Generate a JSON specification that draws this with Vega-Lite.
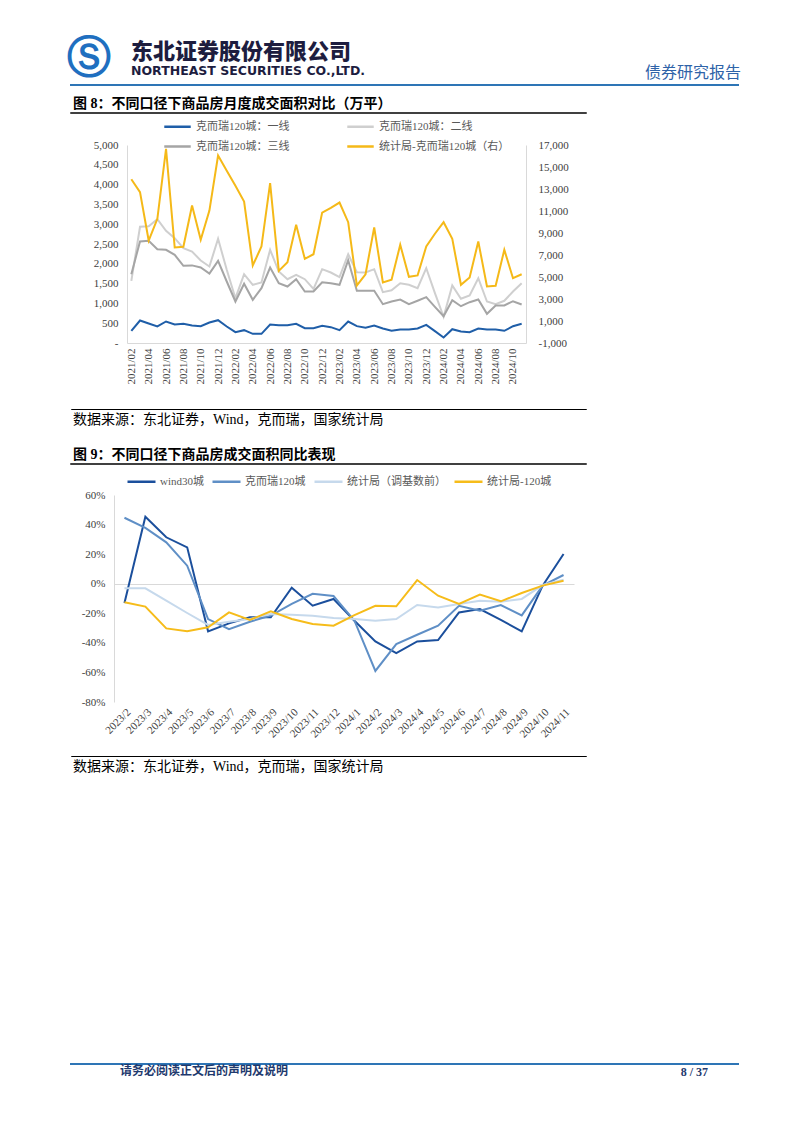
{
  "$schema": "https://vega.github.io/schema/vega-lite/v6.json",
  "background": "white",
  "padding": {"left": 67, "top": 37, "right": 20, "bottom": 20},
  "spacing": 0,
  "bounds": "flush",
  "resolve": {"scale": {"color": "independent"}, "legend": {"color": "independent"}},
  "config": {
    "view": {"stroke": null},
    "axis": {"labelFont": "Liberation Serif, Noto Sans CJK SC", "labelFontSize": 11, "labelColor": "#404040", "grid": false, "ticks": false, "domainColor": "#d9d9d9", "domainWidth": 1},
    "legend": {"labelFont": "Liberation Serif, Noto Sans CJK SC", "labelFontSize": 11, "labelColor": "#595959", "gridAlign": "each"},
    "title": {"font": "Liberation Serif, Noto Sans CJK SC", "color": "#000000", "anchor": "start"}
  },
  "vconcat": [
    {"width": 667, "height": 0.01, "data": {"values": [{}]}, "mark": {"type": "text", "text": ""}, "encoding": {},
     "title": {"text": "Ⓢ", "anchor": "start", "dx": -4, "offset": -4, "font": "DejaVu Sans", "fontSize": 44, "fontWeight": "bold", "color": "#1f6fc0"}},
    {"width": 667, "height": 0.01, "data": {"values": [{}]}, "mark": {"type": "text", "text": ""}, "encoding": {},
     "title": {"text": "东北证券股份有限公司", "subtitle": "NORTHEAST SECURITIES CO.,LTD.", "anchor": "start", "dx": 60, "offset": 0, "font": "Noto Sans CJK SC", "fontSize": 22, "fontWeight": 900, "color": "#1d1d3f", "subtitleFont": "DejaVu Sans", "subtitleFontSize": 12.5, "subtitleFontWeight": "bold", "subtitleColor": "#1d1d3f", "subtitlePadding": 1}},
    {"width": 667, "height": 0.01, "view": {"stroke": "#2e75b6", "strokeWidth": 2}, "data": {"values": [{}]}, "mark": {"type": "text", "text": ""}, "encoding": {},
     "title": {"text": "债券研究报告", "anchor": "end", "dx": 3, "offset": -2, "font": "Noto Sans CJK SC", "fontSize": 16, "fontWeight": "normal", "color": "#2f63a8"}},

    {"width": 1, "height": 27, "data": {"values": [{}]}, "mark": {"type": "text", "text": ""}, "encoding": {}},

    {"width": 515, "height": 0.01, "view": {"stroke": "#000000", "strokeWidth": 1.5}, "data": {"values": [{}]}, "mark": {"type": "text", "text": ""}, "encoding": {},
     "title": {"text": "图 8：不同口径下商品房月度成交面积对比（万平）", "anchor": "start", "dx": 2, "offset": -4, "fontSize": 14, "fontWeight": "bold"}},

    {"width": 1, "height": 31, "data": {"values": [{}]}, "mark": {"type": "text", "text": ""}, "encoding": {}},

    {
      "width": 455, "height": 198,
      "data": {"values": [
        {"m":"2021/02","s":"克而瑞120城：一线","v":308},{"m":"2021/03","s":"克而瑞120城：一线","v":568},{"m":"2021/04","s":"克而瑞120城：一线","v":492},{"m":"2021/05","s":"克而瑞120城：一线","v":417},{"m":"2021/06","s":"克而瑞120城：一线","v":543},{"m":"2021/07","s":"克而瑞120城：一线","v":467},{"m":"2021/08","s":"克而瑞120城：一线","v":484},{"m":"2021/09","s":"克而瑞120城：一线","v":442},{"m":"2021/10","s":"克而瑞120城：一线","v":425},{"m":"2021/11","s":"克而瑞120城：一线","v":518},{"m":"2021/12","s":"克而瑞120城：一线","v":576},
        {"m":"2022/01","s":"克而瑞120城：一线","v":417},{"m":"2022/02","s":"克而瑞120城：一线","v":273},{"m":"2022/03","s":"克而瑞120城：一线","v":324},{"m":"2022/04","s":"克而瑞120城：一线","v":232},{"m":"2022/05","s":"克而瑞120城：一线","v":232},{"m":"2022/06","s":"克而瑞120城：一线","v":467},{"m":"2022/07","s":"克而瑞120城：一线","v":450},{"m":"2022/08","s":"克而瑞120城：一线","v":450},{"m":"2022/09","s":"克而瑞120城：一线","v":484},{"m":"2022/10","s":"克而瑞120城：一线","v":374},{"m":"2022/11","s":"克而瑞120城：一线","v":374},{"m":"2022/12","s":"克而瑞120城：一线","v":434},
        {"m":"2023/01","s":"克而瑞120城：一线","v":400},{"m":"2023/02","s":"克而瑞120城：一线","v":324},{"m":"2023/03","s":"克而瑞120城：一线","v":543},{"m":"2023/04","s":"克而瑞120城：一线","v":425},{"m":"2023/05","s":"克而瑞120城：一线","v":383},{"m":"2023/06","s":"克而瑞120城：一线","v":442},{"m":"2023/07","s":"克而瑞120城：一线","v":366},{"m":"2023/08","s":"克而瑞120城：一线","v":308},{"m":"2023/09","s":"克而瑞120城：一线","v":341},{"m":"2023/10","s":"克而瑞120城：一线","v":341},{"m":"2023/11","s":"克而瑞120城：一线","v":366},{"m":"2023/12","s":"克而瑞120城：一线","v":459},
        {"m":"2024/01","s":"克而瑞120城：一线","v":300},{"m":"2024/02","s":"克而瑞120城：一线","v":139},{"m":"2024/03","s":"克而瑞120城：一线","v":349},{"m":"2024/04","s":"克而瑞120城：一线","v":290},{"m":"2024/05","s":"克而瑞120城：一线","v":273},{"m":"2024/06","s":"克而瑞120城：一线","v":366},{"m":"2024/07","s":"克而瑞120城：一线","v":341},{"m":"2024/08","s":"克而瑞120城：一线","v":341},{"m":"2024/09","s":"克而瑞120城：一线","v":308},{"m":"2024/10","s":"克而瑞120城：一线","v":425},{"m":"2024/11","s":"克而瑞120城：一线","v":484},

        {"m":"2021/02","s":"克而瑞120城：二线","v":1570},{"m":"2021/03","s":"克而瑞120城：二线","v":2934},{"m":"2021/04","s":"克而瑞120城：二线","v":2950},{"m":"2021/05","s":"克而瑞120城：二线","v":3126},{"m":"2021/06","s":"克而瑞120城：二线","v":2833},{"m":"2021/07","s":"克而瑞120城：二线","v":2646},{"m":"2021/08","s":"克而瑞120城：二线","v":2394},{"m":"2021/09","s":"克而瑞120城：二线","v":2310},{"m":"2021/10","s":"克而瑞120城：二线","v":2083},{"m":"2021/11","s":"克而瑞120城：二线","v":1932},{"m":"2021/12","s":"克而瑞120城：二线","v":2631},
        {"m":"2022/01","s":"克而瑞120城：二线","v":1848},{"m":"2022/02","s":"克而瑞120城：二线","v":1131},{"m":"2022/03","s":"克而瑞120城：二线","v":1738},{"m":"2022/04","s":"克而瑞120城：二线","v":1469},{"m":"2022/05","s":"克而瑞120城：二线","v":1528},{"m":"2022/06","s":"克而瑞120城：二线","v":2353},{"m":"2022/07","s":"克而瑞120城：二线","v":1805},{"m":"2022/08","s":"克而瑞120城：二线","v":1611},{"m":"2022/09","s":"克而瑞120城：二线","v":1722},{"m":"2022/10","s":"克而瑞120城：二线","v":1611},{"m":"2022/11","s":"克而瑞120城：二线","v":1368},{"m":"2022/12","s":"克而瑞120城：二线","v":1864},
        {"m":"2023/01","s":"克而瑞120城：二线","v":1780},{"m":"2023/02","s":"克而瑞120城：二线","v":1662},{"m":"2023/03","s":"克而瑞120城：二线","v":2242},{"m":"2023/04","s":"克而瑞120城：二线","v":1788},{"m":"2023/05","s":"克而瑞120城：二线","v":1780},{"m":"2023/06","s":"克而瑞120城：二线","v":1864},{"m":"2023/07","s":"克而瑞120城：二线","v":1283},{"m":"2023/08","s":"克而瑞120城：二线","v":1333},{"m":"2023/09","s":"克而瑞120城：二线","v":1510},{"m":"2023/10","s":"克而瑞120城：二线","v":1469},{"m":"2023/11","s":"克而瑞120城：二线","v":1384},{"m":"2023/12","s":"克而瑞120城：二线","v":1889},
        {"m":"2024/01","s":"克而瑞120城：二线","v":1258},{"m":"2024/02","s":"克而瑞120城：二线","v":662},{"m":"2024/03","s":"克而瑞120城：二线","v":1452},{"m":"2024/04","s":"克而瑞120城：二线","v":1116},{"m":"2024/05","s":"克而瑞120城：二线","v":1199},{"m":"2024/06","s":"克而瑞120城：二线","v":1636},{"m":"2024/07","s":"克而瑞120城：二线","v":1048},{"m":"2024/08","s":"克而瑞120城：二线","v":980},{"m":"2024/09","s":"克而瑞120城：二线","v":1066},{"m":"2024/10","s":"克而瑞120城：二线","v":1300},{"m":"2024/11","s":"克而瑞120城：二线","v":1510},

        {"m":"2021/02","s":"克而瑞120城：三线","v":1738},{"m":"2021/03","s":"克而瑞120城：三线","v":2563},{"m":"2021/04","s":"克而瑞120城：三线","v":2580},{"m":"2021/05","s":"克而瑞120城：三线","v":2369},{"m":"2021/06","s":"克而瑞120城：三线","v":2353},{"m":"2021/07","s":"克而瑞120城：三线","v":2227},{"m":"2021/08","s":"克而瑞120城：三线","v":1949},{"m":"2021/09","s":"克而瑞120城：三线","v":1960},{"m":"2021/10","s":"克而瑞120城：三线","v":1906},{"m":"2021/11","s":"克而瑞120城：三线","v":1755},{"m":"2021/12","s":"克而瑞120城：三线","v":2075},
        {"m":"2022/01","s":"克而瑞120城：三线","v":1553},{"m":"2022/02","s":"克而瑞120城：三线","v":1048},{"m":"2022/03","s":"克而瑞120城：三线","v":1495},{"m":"2022/04","s":"克而瑞120城：三线","v":1091},{"m":"2022/05","s":"克而瑞120城：三线","v":1384},{"m":"2022/06","s":"克而瑞120城：三线","v":1906},{"m":"2022/07","s":"克而瑞120城：三线","v":1510},{"m":"2022/08","s":"克而瑞120城：三线","v":1427},{"m":"2022/09","s":"克而瑞120城：三线","v":1611},{"m":"2022/10","s":"克而瑞120城：三线","v":1300},{"m":"2022/11","s":"克而瑞120城：三线","v":1300},{"m":"2022/12","s":"克而瑞120城：三线","v":1535},
        {"m":"2023/01","s":"克而瑞120城：三线","v":1510},{"m":"2023/02","s":"克而瑞120城：三线","v":1469},{"m":"2023/03","s":"克而瑞120城：三线","v":2091},{"m":"2023/04","s":"克而瑞120城：三线","v":1318},{"m":"2023/05","s":"克而瑞120城：三线","v":1318},{"m":"2023/06","s":"克而瑞120城：三线","v":1318},{"m":"2023/07","s":"克而瑞120城：三线","v":980},{"m":"2023/08","s":"克而瑞120城：三线","v":1048},{"m":"2023/09","s":"克而瑞120城：三线","v":1098},{"m":"2023/10","s":"克而瑞120城：三线","v":980},{"m":"2023/11","s":"克而瑞120城：三线","v":1066},{"m":"2023/12","s":"克而瑞120城：三线","v":1157},
        {"m":"2024/01","s":"克而瑞120城：三线","v":914},{"m":"2024/02","s":"克而瑞120城：三线","v":677},{"m":"2024/03","s":"克而瑞120城：三线","v":1081},{"m":"2024/04","s":"克而瑞120城：三线","v":929},{"m":"2024/05","s":"克而瑞120城：三线","v":1030},{"m":"2024/06","s":"克而瑞120城：三线","v":1098},{"m":"2024/07","s":"克而瑞120城：三线","v":737},{"m":"2024/08","s":"克而瑞120城：三线","v":947},{"m":"2024/09","s":"克而瑞120城：三线","v":947},{"m":"2024/10","s":"克而瑞120城：三线","v":1055},{"m":"2024/11","s":"克而瑞120城：三线","v":972},

        {"m":"2021/02","s":"统计局-克而瑞120城（右）","v":13890},{"m":"2021/03","s":"统计局-克而瑞120城（右）","v":12710},{"m":"2021/04","s":"统计局-克而瑞120城（右）","v":8317},{"m":"2021/05","s":"统计局-克而瑞120城（右）","v":10290},{"m":"2021/06","s":"统计局-克而瑞120城（右）","v":16650},{"m":"2021/07","s":"统计局-克而瑞120城（右）","v":7680},{"m":"2021/08","s":"统计局-克而瑞120城（右）","v":7745},{"m":"2021/09","s":"统计局-克而瑞120城（右）","v":11500},{"m":"2021/10","s":"统计局-克而瑞120城（右）","v":8380},{"m":"2021/11","s":"统计局-克而瑞120城（右）","v":11040},{"m":"2021/12","s":"统计局-克而瑞120城（右）","v":16040},
        {"m":"2022/01","s":"统计局-克而瑞120城（右）","v":14650},{"m":"2022/02","s":"统计局-克而瑞120城（右）","v":13290},{"m":"2022/03","s":"统计局-克而瑞120城（右）","v":11860},{"m":"2022/04","s":"统计局-克而瑞120城（右）","v":6045},{"m":"2022/05","s":"统计局-克而瑞120城（右）","v":7770},{"m":"2022/06","s":"统计局-克而瑞120城（右）","v":13530},{"m":"2022/07","s":"统计局-克而瑞120城（右）","v":5560},{"m":"2022/08","s":"统计局-克而瑞120城（右）","v":6345},{"m":"2022/09","s":"统计局-克而瑞120城（右）","v":9745},{"m":"2022/10","s":"统计局-克而瑞120城（右）","v":6650},{"m":"2022/11","s":"统计局-克而瑞120城（右）","v":7070},{"m":"2022/12","s":"统计局-克而瑞120城（右）","v":10860},
        {"m":"2023/01","s":"统计局-克而瑞120城（右）","v":11290},{"m":"2023/02","s":"统计局-克而瑞120城（右）","v":11770},{"m":"2023/03","s":"统计局-克而瑞120城（右）","v":9980},{"m":"2023/04","s":"统计局-克而瑞120城（右）","v":4230},{"m":"2023/05","s":"统计局-克而瑞120城（右）","v":5250},{"m":"2023/06","s":"统计局-克而瑞120城（右）","v":9500},{"m":"2023/07","s":"统计局-克而瑞120城（右）","v":4500},{"m":"2023/08","s":"统计局-克而瑞120城（右）","v":4745},{"m":"2023/09","s":"统计局-克而瑞120城（右）","v":7930},{"m":"2023/10","s":"统计局-克而瑞120城（右）","v":5020},{"m":"2023/11","s":"统计局-克而瑞120城（右）","v":5140},{"m":"2023/12","s":"统计局-克而瑞120城（右）","v":7770},
        {"m":"2024/01","s":"统计局-克而瑞120城（右）","v":8930},{"m":"2024/02","s":"统计局-克而瑞120城（右）","v":9980},{"m":"2024/03","s":"统计局-克而瑞120城（右）","v":8470},{"m":"2024/04","s":"统计局-克而瑞120城（右）","v":4290},{"m":"2024/05","s":"统计局-克而瑞120城（右）","v":4950},{"m":"2024/06","s":"统计局-克而瑞120城（右）","v":8230},{"m":"2024/07","s":"统计局-克而瑞120城（右）","v":4140},{"m":"2024/08","s":"统计局-克而瑞120城（右）","v":4200},{"m":"2024/09","s":"统计局-克而瑞120城（右）","v":7470},{"m":"2024/10","s":"统计局-克而瑞120城（右）","v":4890},{"m":"2024/11","s":"统计局-克而瑞120城（右）","v":5250}
      ]},
      "encoding": {
        "x": {"field": "m", "type": "ordinal", "scale": {"type": "point", "padding": 0.5, "range": [56, 455]},
              "axis": {"title": null, "values": ["2021/02","2021/04","2021/06","2021/08","2021/10","2021/12","2022/02","2022/04","2022/06","2022/08","2022/10","2022/12","2023/02","2023/04","2023/06","2023/08","2023/10","2023/12","2024/02","2024/04","2024/06","2024/08","2024/10"], "labelAngle": -90, "labelPadding": 5, "domain": true}},
        "color": {"field": "s", "type": "nominal",
                  "scale": {"domain": ["克而瑞120城：一线","克而瑞120城：二线","克而瑞120城：三线","统计局-克而瑞120城（右）"], "range": ["#1f5ea8","#cfcfcf","#a5a5a5","#f5b918"]},
                  "legend": {"title": null, "orient": "none", "legendX": 92, "legendY": -33, "direction": "horizontal", "columns": 2, "columnPadding": 52, "rowPadding": -8, "symbolType": "stroke", "symbolSize": 700, "symbolStrokeWidth": 2.5, "labelOffset": 4}}
      },
      "layer": [
        {"transform": [{"filter": "datum.s !== '统计局-克而瑞120城（右）'"}],
         "mark": {"type": "line", "strokeWidth": 2},
         "encoding": {"y": {"field": "v", "type": "quantitative", "scale": {"domain": [0, 5000], "nice": false, "zero": false},
                            "axis": {"title": null, "offset": -56, "values": [0,500,1000,1500,2000,2500,3000,3500,4000,4500,5000], "labelExpr": "datum.value === 0 ? '-' : format(datum.value, ',')", "labelPadding": 9, "domain": true}}}},
        {"transform": [{"filter": "datum.s === '统计局-克而瑞120城（右）'"}],
         "mark": {"type": "line", "strokeWidth": 2},
         "encoding": {"y": {"field": "v", "type": "quantitative", "scale": {"domain": [-1000, 17000], "nice": false, "zero": false},
                            "axis": {"title": null, "orient": "right", "values": [-1000,1000,3000,5000,7000,9000,11000,13000,15000,17000], "labelExpr": "replace(format(datum.value, ','), '−', '-')", "labelPadding": 12, "domain": true}}}}
      ],
      "resolve": {"scale": {"y": "independent"}}
    },

    {"width": 1, "height": 66, "data": {"values": [{}]}, "mark": {"type": "text", "text": ""}, "encoding": {}},

    {"width": 515, "height": 0.01, "view": {"stroke": "#000000", "strokeWidth": 1}, "data": {"values": [{}]}, "mark": {"type": "text", "text": ""}, "encoding": {},
     "title": {"text": "数据来源：东北证券，Wind，克而瑞，国家统计局", "orient": "bottom", "anchor": "start", "dx": 2, "offset": -1, "fontSize": 14, "fontWeight": "normal"}},

    {"width": 1, "height": 54, "data": {"values": [{}]}, "mark": {"type": "text", "text": ""}, "encoding": {}},

    {"width": 515, "height": 0.01, "view": {"stroke": "#000000", "strokeWidth": 1.5}, "data": {"values": [{}]}, "mark": {"type": "text", "text": ""}, "encoding": {},
     "title": {"text": "图 9：不同口径下商品房成交面积同比表现", "anchor": "start", "dx": 2, "offset": -4, "fontSize": 14, "fontWeight": "bold"}},

    {"width": 1, "height": 30, "data": {"values": [{}]}, "mark": {"type": "text", "text": ""}, "encoding": {}},

    {
      "width": 503, "height": 207,
      "data": {"values": [
        {"m":"2023/2","s":"wind30城","v":-13.0},{"m":"2023/3","s":"wind30城","v":45.3},{"m":"2023/4","s":"wind30城","v":31.4},{"m":"2023/5","s":"wind30城","v":24.6},{"m":"2023/6","s":"wind30城","v":-32.2},{"m":"2023/7","s":"wind30城","v":-26.8},{"m":"2023/8","s":"wind30城","v":-22.7},{"m":"2023/9","s":"wind30城","v":-22.7},{"m":"2023/10","s":"wind30城","v":-2.7},{"m":"2023/11","s":"wind30城","v":-14.9},{"m":"2023/12","s":"wind30城","v":-10.3},
        {"m":"2024/1","s":"wind30城","v":-25.0},{"m":"2024/2","s":"wind30城","v":-39.0},{"m":"2024/3","s":"wind30城","v":-46.9},{"m":"2024/4","s":"wind30城","v":-39.0},{"m":"2024/5","s":"wind30城","v":-38.1},{"m":"2024/6","s":"wind30城","v":-19.4},{"m":"2024/7","s":"wind30城","v":-17.1},{"m":"2024/8","s":"wind30城","v":-24.5},{"m":"2024/9","s":"wind30城","v":-32.2},{"m":"2024/10","s":"wind30城","v":-1.3},{"m":"2024/11","s":"wind30城","v":20.1},

        {"m":"2023/2","s":"克而瑞120城","v":44.6},{"m":"2023/3","s":"克而瑞120城","v":37.7},{"m":"2023/4","s":"克而瑞120城","v":28.0},{"m":"2023/5","s":"克而瑞120城","v":12.2},{"m":"2023/6","s":"克而瑞120城","v":-23.9},{"m":"2023/7","s":"克而瑞120城","v":-30.8},{"m":"2023/8","s":"克而瑞120城","v":-25.7},{"m":"2023/9","s":"克而瑞120城","v":-21.6},{"m":"2023/10","s":"克而瑞120城","v":-13.7},{"m":"2023/11","s":"克而瑞120城","v":-6.8},{"m":"2023/12","s":"克而瑞120城","v":-8.3},
        {"m":"2024/1","s":"克而瑞120城","v":-25.0},{"m":"2024/2","s":"克而瑞120城","v":-59.0},{"m":"2024/3","s":"克而瑞120城","v":-40.8},{"m":"2024/4","s":"克而瑞120城","v":-34.5},{"m":"2024/5","s":"克而瑞120城","v":-28.4},{"m":"2024/6","s":"克而瑞120城","v":-14.9},{"m":"2024/7","s":"克而瑞120城","v":-18.3},{"m":"2024/8","s":"克而瑞120城","v":-14.4},{"m":"2024/9","s":"克而瑞120城","v":-21.4},{"m":"2024/10","s":"克而瑞120城","v":-1.3},{"m":"2024/11","s":"克而瑞120城","v":5.9},

        {"m":"2023/2","s":"统计局（调基数前）","v":-3.1},{"m":"2023/3","s":"统计局（调基数前）","v":-3.1},{"m":"2023/4","s":"统计局（调基数前）","v":-11.5},{"m":"2023/5","s":"统计局（调基数前）","v":-19.8},{"m":"2023/6","s":"统计局（调基数前）","v":-27.9},{"m":"2023/7","s":"统计局（调基数前）","v":-25.7},{"m":"2023/8","s":"统计局（调基数前）","v":-23.9},{"m":"2023/9","s":"统计局（调基数前）","v":-20.5},{"m":"2023/10","s":"统计局（调基数前）","v":-21.0},{"m":"2023/11","s":"统计局（调基数前）","v":-21.6},{"m":"2023/12","s":"统计局（调基数前）","v":-23.2},
        {"m":"2024/1","s":"统计局（调基数前）","v":-23.9},{"m":"2024/2","s":"统计局（调基数前）","v":-25.0},{"m":"2024/3","s":"统计局（调基数前）","v":-23.9},{"m":"2024/4","s":"统计局（调基数前）","v":-14.4},{"m":"2024/5","s":"统计局（调基数前）","v":-16.0},{"m":"2024/6","s":"统计局（调基数前）","v":-13.7},{"m":"2024/7","s":"统计局（调基数前）","v":-11.5},{"m":"2024/8","s":"统计局（调基数前）","v":-12.2},{"m":"2024/9","s":"统计局（调基数前）","v":-10.3},{"m":"2024/10","s":"统计局（调基数前）","v":-0.9},{"m":"2024/11","s":"统计局（调基数前）","v":2.7},

        {"m":"2023/2","s":"统计局-120城","v":-12.6},{"m":"2023/3","s":"统计局-120城","v":-15.5},{"m":"2023/4","s":"统计局-120城","v":-30.2},{"m":"2023/5","s":"统计局-120城","v":-32.2},{"m":"2023/6","s":"统计局-120城","v":-29.5},{"m":"2023/7","s":"统计局-120城","v":-19.4},{"m":"2023/8","s":"统计局-120城","v":-24.5},{"m":"2023/9","s":"统计局-120城","v":-18.7},{"m":"2023/10","s":"统计局-120城","v":-23.9},{"m":"2023/11","s":"统计局-120城","v":-27.2},{"m":"2023/12","s":"统计局-120城","v":-28.4},
        {"m":"2024/1","s":"统计局-120城","v":-21.2},{"m":"2024/2","s":"统计局-120城","v":-14.9},{"m":"2024/3","s":"统计局-120城","v":-15.3},{"m":"2024/4","s":"统计局-120城","v":2.5},{"m":"2024/5","s":"统计局-120城","v":-8.1},{"m":"2024/6","s":"统计局-120城","v":-13.7},{"m":"2024/7","s":"统计局-120城","v":-7.4},{"m":"2024/8","s":"统计局-120城","v":-11.9},{"m":"2024/9","s":"统计局-120城","v":-6.3},{"m":"2024/10","s":"统计局-120城","v":-1.3},{"m":"2024/11","s":"统计局-120城","v":2.0}
      ]},
      "mark": {"type": "line", "strokeWidth": 2},
      "encoding": {
        "x": {"field": "m", "type": "ordinal", "sort": ["2023/2","2023/3","2023/4","2023/5","2023/6","2023/7","2023/8","2023/9","2023/10","2023/11","2023/12","2024/1","2024/2","2024/3","2024/4","2024/5","2024/6","2024/7","2024/8","2024/9","2024/10","2024/11"],
              "scale": {"type": "point", "padding": 0.5, "range": [43, 503]},
              "axis": {"title": null, "labelAngle": -45, "labelPadding": 4, "domain": false}},
        "y": {"field": "v", "type": "quantitative", "scale": {"domain": [-80, 60], "nice": false, "zero": false},
              "axis": {"title": null, "offset": -43, "values": [-80,-60,-40,-20,0,20,40,60], "labelExpr": "datum.value + '%'", "labelPadding": 9, "domain": true,
                       "grid": true, "gridColor": "#d9d9d9", "gridWidth": 1, "gridOpacity": {"condition": {"test": "datum.value === 0", "value": 1}, "value": 0}}},
        "color": {"field": "s", "type": "nominal",
                  "scale": {"domain": ["wind30城","克而瑞120城","统计局（调基数前）","统计局-120城"], "range": ["#1b4f9c","#5f8fc6","#c6d9ec","#f6bc1a"]},
                  "legend": {"title": null, "orient": "none", "legendX": 55, "legendY": -29, "direction": "horizontal", "columnPadding": 3, "symbolType": "stroke", "symbolSize": 784, "symbolStrokeWidth": 2.5, "labelOffset": 3}}
      }
    },

    {"width": 1, "height": 54, "data": {"values": [{}]}, "mark": {"type": "text", "text": ""}, "encoding": {}},

    {"width": 515, "height": 0.01, "view": {"stroke": "#000000", "strokeWidth": 1}, "data": {"values": [{}]}, "mark": {"type": "text", "text": ""}, "encoding": {},
     "title": {"text": "数据来源：东北证券，Wind，克而瑞，国家统计局", "orient": "bottom", "anchor": "start", "dx": 2, "offset": -1, "fontSize": 14, "fontWeight": "normal"}},

    {"width": 1, "height": 307, "data": {"values": [{}]}, "mark": {"type": "text", "text": ""}, "encoding": {}},

    {"width": 667, "height": 0.01, "view": {"stroke": "#2e75b6", "strokeWidth": 2}, "data": {"values": [{}]}, "mark": {"type": "text", "text": ""}, "encoding": {},
     "title": {"text": "请务必阅读正文后的声明及说明", "orient": "bottom", "anchor": "start", "dx": 49, "offset": -3, "font": "Noto Sans CJK SC", "fontSize": 12, "fontWeight": "bold", "color": "#1f3a6e"}},
    {"width": 667, "height": 0.01, "data": {"values": [{}]}, "mark": {"type": "text", "text": ""}, "encoding": {},
     "title": {"text": "8 / 37", "orient": "bottom", "anchor": "end", "dx": -30, "offset": -3, "font": "Liberation Serif", "fontSize": 12, "fontWeight": "bold", "color": "#1f3a6e"}}
  ]
}
